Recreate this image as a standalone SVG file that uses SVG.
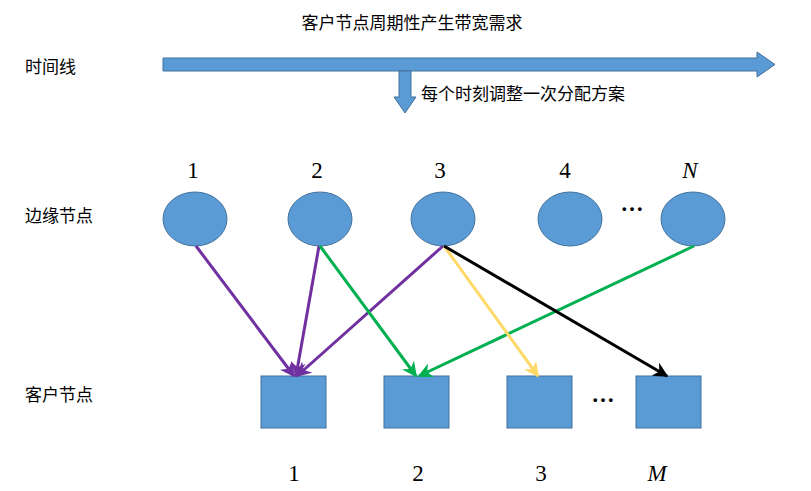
<svg xmlns="http://www.w3.org/2000/svg" width="811" height="491" viewBox="0 0 811 491">
<style>
.cjk{font-family:"Noto Sans CJK SC","Noto Sans",sans-serif;font-size:17px;fill:#000}
.num{font-family:"Liberation Serif",serif;font-size:23px;fill:#000;text-anchor:middle}
.it{font-style:italic}
.node{fill:#5B9BD5;stroke:#41719C;stroke-width:1}
.edge{fill:none;stroke-width:3}
</style>
<defs>
<marker id="aP" viewBox="0 0 10 10" refX="9" refY="5" markerWidth="5" markerHeight="5" orient="auto" markerUnits="strokeWidth"><path d="M0,0 L10,5 L0,10 L3,5 Z" fill="#7030A0"/></marker>
<marker id="aG" viewBox="0 0 10 10" refX="9" refY="5" markerWidth="5" markerHeight="5" orient="auto" markerUnits="strokeWidth"><path d="M0,0 L10,5 L0,10 L3,5 Z" fill="#00B050"/></marker>
<marker id="aY" viewBox="0 0 10 10" refX="9" refY="5" markerWidth="5" markerHeight="5" orient="auto" markerUnits="strokeWidth"><path d="M0,0 L10,5 L0,10 L3,5 Z" fill="#FFD966"/></marker>
<marker id="aK" viewBox="0 0 10 10" refX="9" refY="5" markerWidth="5" markerHeight="5" orient="auto" markerUnits="strokeWidth"><path d="M0,0 L10,5 L0,10 L3,5 Z" fill="#000"/></marker>
</defs>
<rect width="811" height="491" fill="#fff"/>
<g id="timeline">
<path class="node" d="M163,58 L757,58 L757,52 L775,64.5 L757,77 L757,71 L163,71 Z"/>
<path class="node" d="M399,71 L411,71 L411,97 L416,97 L405,113 L394,97 L399,97 Z"/>
<text class="cjk" x="412" y="29" text-anchor="middle">客户节点周期性产生带宽需求</text>
<text class="cjk" x="421" y="100">每个时刻调整一次分配方案</text>
</g>
<g id="labels">
<text class="cjk" x="25" y="73">时间线</text>
<text class="cjk" x="25" y="222">边缘节点</text>
<text class="cjk" x="25" y="401">客户节点</text>
</g>
<g id="edge-nodes">
<g id="e1"><ellipse class="node" cx="195" cy="219" rx="32" ry="27"/><text class="num" x="193" y="178">1</text></g>
<g id="e2"><ellipse class="node" cx="320" cy="219" rx="32" ry="27"/><text class="num" x="317" y="178">2</text></g>
<g id="e3"><ellipse class="node" cx="443" cy="219" rx="32" ry="27"/><text class="num" x="440" y="178">3</text></g>
<g id="e4"><ellipse class="node" cx="570" cy="219" rx="32" ry="27"/><text class="num" x="565" y="178">4</text></g>
<g id="eN"><ellipse class="node" cx="693" cy="219" rx="32" ry="27"/><text class="num it" x="690" y="178">N</text></g>
<text class="num" x="632" y="211" font-weight="bold">…</text>
</g>
<g id="client-nodes">
<g id="c1"><rect class="node" x="261" y="376" width="65" height="52"/><text class="num" x="294" y="481">1</text></g>
<g id="c2"><rect class="node" x="384" y="376" width="65" height="52"/><text class="num" x="418" y="481">2</text></g>
<g id="c3"><rect class="node" x="507" y="376" width="65" height="52"/><text class="num" x="541" y="481">3</text></g>
<g id="cM"><rect class="node" x="636" y="376" width="65" height="52"/><text class="num it" x="657" y="481">M</text></g>
<text class="num" x="603" y="402" font-weight="bold">…</text>
</g>
<g id="connectors">
<line class="edge" stroke="#7030A0" x1="196" y1="246" x2="294" y2="376" marker-end="url(#aP)"/>
<line class="edge" stroke="#7030A0" x1="319" y1="246" x2="296" y2="376" marker-end="url(#aP)"/>
<line class="edge" stroke="#7030A0" x1="443" y1="246" x2="297" y2="376" marker-end="url(#aP)"/>
<line class="edge" stroke="#00B050" x1="320" y1="246" x2="416" y2="376" marker-end="url(#aG)"/>
<line class="edge" stroke="#00B050" x1="694" y1="246" x2="419" y2="376" marker-end="url(#aG)"/>
<line class="edge" stroke="#FFD966" x1="444" y1="246" x2="538" y2="376" marker-end="url(#aY)"/>
<line class="edge" stroke="#000" x1="444" y1="246" x2="667" y2="376" marker-end="url(#aK)"/>
</g>
</svg>
